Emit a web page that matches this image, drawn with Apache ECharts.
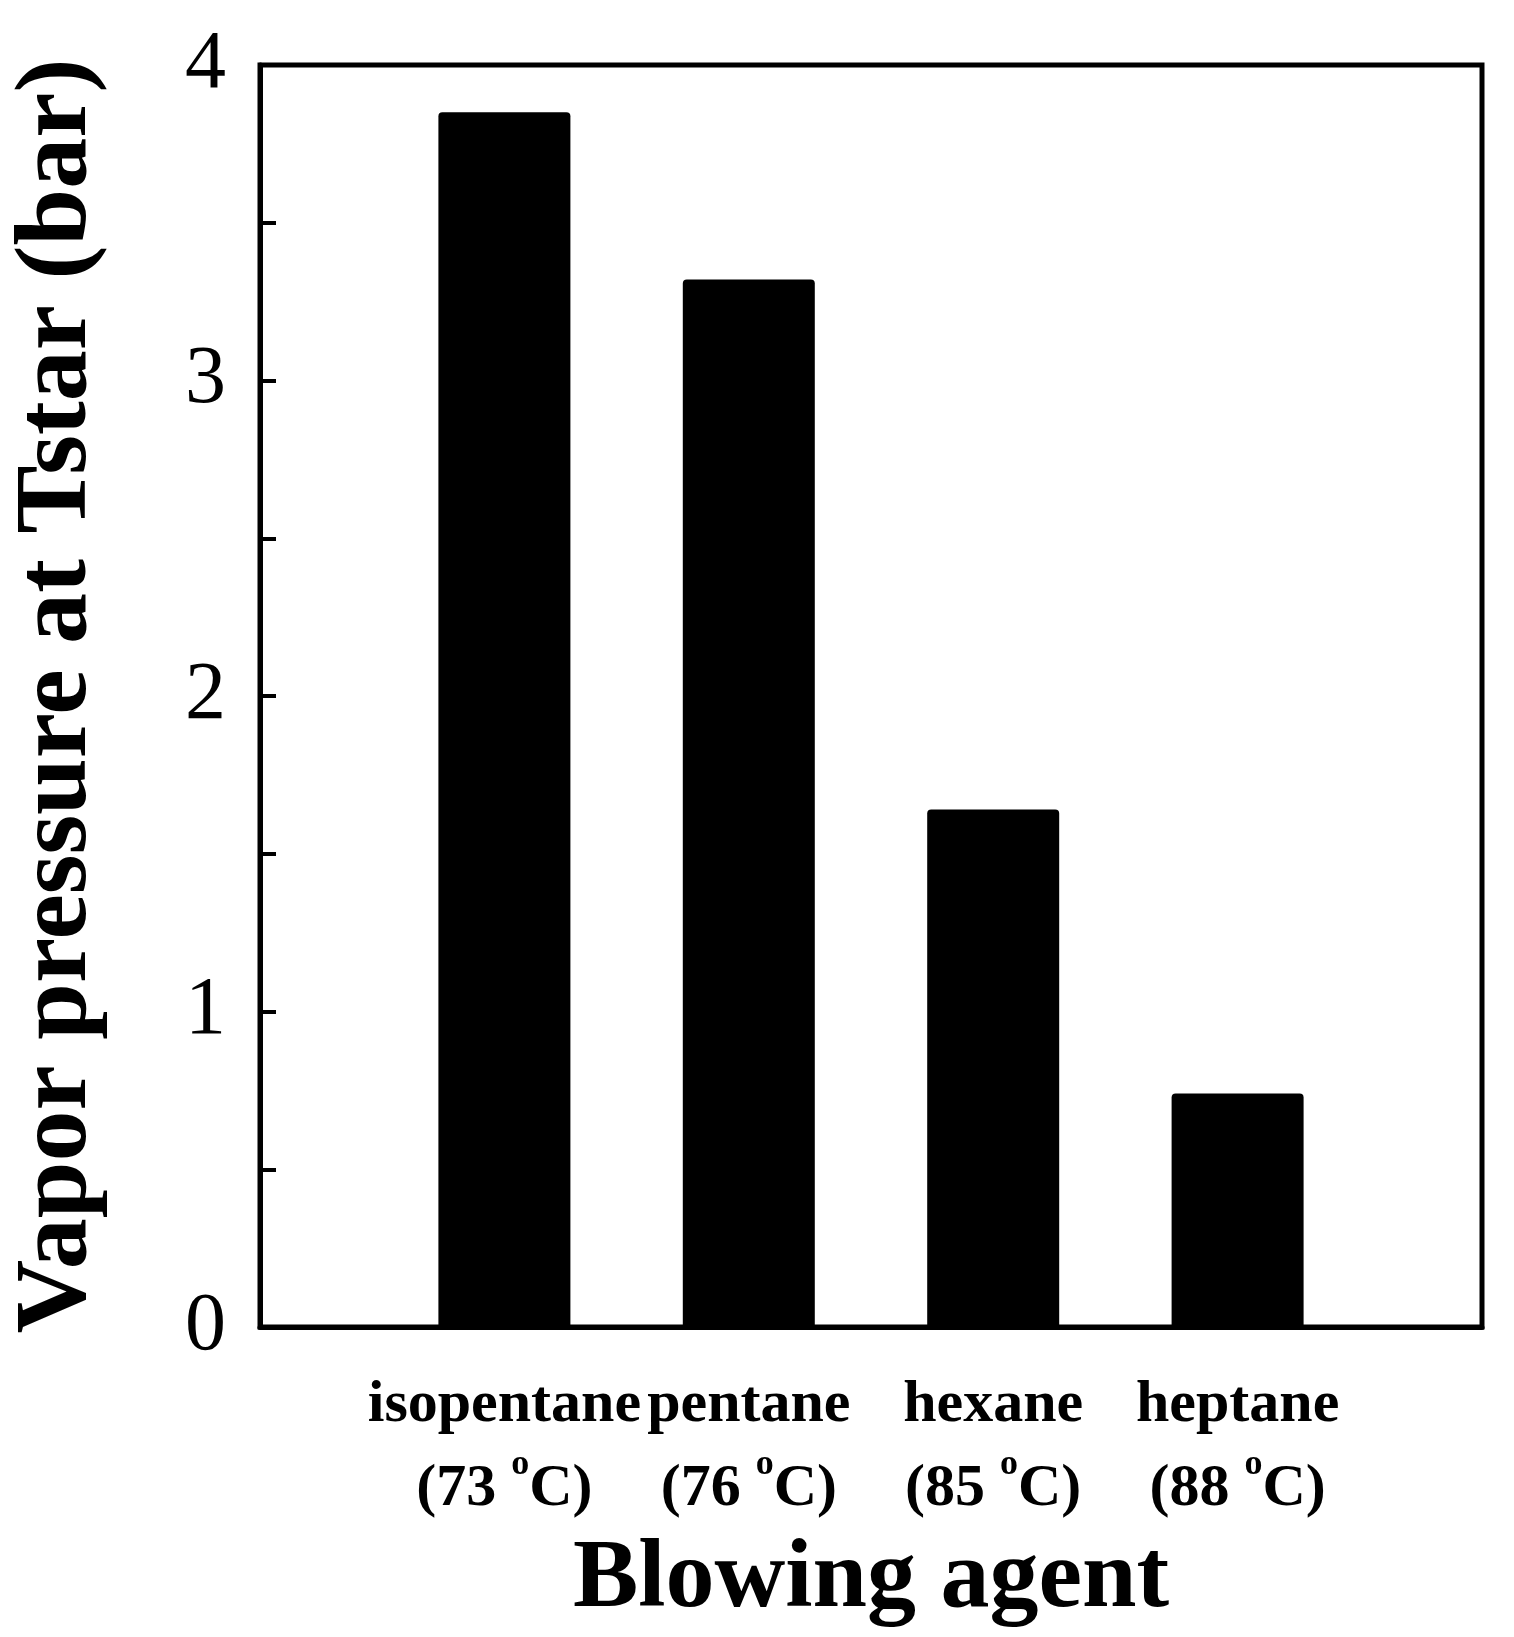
<!DOCTYPE html>
<html lang="en">
<head>
    <meta charset="UTF-8">
    <title>Vapor pressure</title>
    <script src="https://cdn.jsdelivr.net/npm/echarts@6/dist/echarts.min.js"></script>
    <style type="text/css">
        html, body { height: 100%; margin: 0; background: #fff; }
        #chart { width: 1514px; height: 1637px; }
    </style>
</head>
<body>
    <div id="chart"></div>
    <script type="text/javascript">
        // blowing agents and their start temperatures
        var agents = ['isopentane', 'pentane', 'hexane', 'heptane'];
        var temps = ['73', '76', '85', '88'];
        var pressures = [3.85, 3.32, 1.64, 0.74];
        var yTicks = ['0', '1', '2', '3', '4'];

        var chart = echarts.init(document.getElementById('chart'));
        var serif = '"Liberation Serif", "Times New Roman", serif';

        var barData = [];
        for (var i = 0; i < pressures.length; i++) {
            barData.push([i + 1, pressures[i]]);
        }

        var option = {
            backgroundColor: '#fff',
            animation: false,
            grid: {
                left: 230, right: 32, top: 65, bottom: 310,
                show: true, borderColor: '#000', borderWidth: 5
            },
            xAxis: {
                type: 'value',
                min: 0, max: 5, interval: 1,
                name: 'Blowing agent',
                nameLocation: 'middle',
                nameGap: 205,
                nameTextStyle: { fontFamily: serif, fontWeight: 'bold', fontSize: 98, color: '#000' },
                splitLine: { show: false },
                axisTick: { show: false },
                axisLine: { lineStyle: { color: '#000', width: 5 } },
                axisLabel: {
                    margin: 36,
                    formatter: function (v) {
                        var k = Math.round(v) - 1;
                        if (k < 0 || k >= agents.length) return '';
                        return '{n|' + agents[k] + '}\n{t|(' + temps[k] + ' }{s|o}{t|C)}';
                    },
                    rich: {
                        n: { fontFamily: serif, fontWeight: 'bold', fontSize: 60, color: '#000', lineHeight: 84 },
                        t: { fontFamily: serif, fontWeight: 'bold', fontSize: 60, color: '#000', lineHeight: 84 },
                        s: { fontFamily: serif, fontWeight: 'bold', fontSize: 36, color: '#000', verticalAlign: 'top', lineHeight: 70 }
                    }
                }
            },
            yAxis: {
                type: 'value',
                min: 0, max: 4, interval: 0.5,
                name: 'Vapor pressure at Tstar (bar)',
                nameLocation: 'middle',
                nameGap: 150,
                nameTextStyle: { fontFamily: serif, fontWeight: 'bold', fontSize: 102, color: '#000' },
                splitLine: { show: false },
                axisLine: { lineStyle: { color: '#000', width: 5 } },
                axisTick: { inside: true, length: 16, lineStyle: { color: '#000', width: 4 } },
                axisLabel: {
                    margin: 34,
                    fontFamily: serif, fontSize: 82, color: '#000',
                    formatter: function (v) {
                        return v % 1 === 0 ? yTicks[v] : '';
                    }
                }
            },
            series: [{
                type: 'bar',
                data: barData,
                barWidth: 132,
                itemStyle: { color: '#000', borderRadius: [4, 4, 0, 0] }
            }]
        };

        chart.setOption(option);
    </script>
</body>
</html>
